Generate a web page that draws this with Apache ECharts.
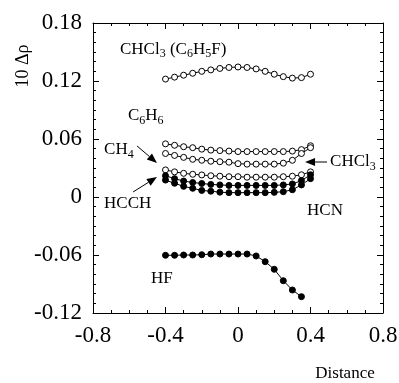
<!DOCTYPE html>
<html>
<head>
<meta charset="utf-8">
<script src="https://cdn.jsdelivr.net/npm/echarts@6/dist/echarts.min.js"></script>
<style>
  html, body { margin: 0; padding: 0; background: #fff; }
  #chart { width: 399px; height: 383px; }
</style>
</head>
<body>
<div id="chart"></div>
<script>
// x positions of the points (distance)
const distance = [-0.4, -0.35, -0.3, -0.25, -0.2, -0.15, -0.1, -0.05, 0, 0.05, 0.1, 0.15, 0.2, 0.25, 0.3, 0.35, 0.4];
const distanceHF = [-0.4, -0.35, -0.3, -0.25, -0.2, -0.15, -0.1, -0.05, 0, 0.05, 0.1, 0.15, 0.2, 0.25, 0.3, 0.35];

// 10 Δρ values
const chcl3C6h5f = [0.122, 0.124, 0.126, 0.128, 0.130, 0.1315, 0.133, 0.134, 0.1345, 0.134, 0.1325, 0.130, 0.127, 0.1245, 0.123, 0.1235, 0.127];
const c6h6 = [0.055, 0.0535, 0.052, 0.051, 0.0495, 0.0485, 0.048, 0.0475, 0.047, 0.047, 0.047, 0.047, 0.047, 0.047, 0.0475, 0.049, 0.053];
const ch4 = [0.045, 0.043, 0.041, 0.039, 0.038, 0.037, 0.0365, 0.036, 0.0345, 0.034, 0.034, 0.034, 0.034, 0.035, 0.038, 0.045, 0.051];
const chcl3 = [0.028, 0.026, 0.0245, 0.0235, 0.0228, 0.022, 0.0215, 0.021, 0.021, 0.0205, 0.0205, 0.0205, 0.0205, 0.021, 0.0215, 0.023, 0.026];
const hcch = [0.022, 0.019, 0.0165, 0.015, 0.014, 0.013, 0.0125, 0.012, 0.012, 0.012, 0.012, 0.012, 0.012, 0.0125, 0.0135, 0.017, 0.023];
const hcn = [0.0175, 0.0142, 0.011, 0.009, 0.0068, 0.006, 0.005, 0.0045, 0.0045, 0.0045, 0.0045, 0.0045, 0.0048, 0.0055, 0.0075, 0.0125, 0.019];
const hf = [-0.0603, -0.0603, -0.060, -0.060, -0.0597, -0.059, -0.059, -0.059, -0.059, -0.059, -0.061, -0.0669, -0.0748, -0.0866, -0.0962, -0.1031];

// tick labels
const xTicks = ["-0.8", "-0.4", "0", "0.4", "0.8"];
const yTicks = ["-0.12", "-0.06", "0", "0.06", "0.12", "0.18"];

const serif = "Liberation Serif";

function pairs(xs, ys) {
  return ys.map((v, i) => [xs[i], v]);
}

function curve(name, xs, ys, filled) {
  return {
    name: name,
    type: "line",
    data: pairs(xs, ys),
    symbol: "circle",
    symbolSize: 6,
    showSymbol: true,
    lineStyle: { color: "#000", width: 1 },
    itemStyle: {
      color: filled ? "#000" : "#fff",
      borderColor: "#000",
      borderWidth: 1,
    },
    emphasis: { disabled: true },
    animation: false,
  };
}

const chart = echarts.init(document.getElementById("chart"));

const axisCommon = {
  type: "value",
  axisLine: { show: true, onZero: false, lineStyle: { color: "#000", width: 1 } },
  axisTick: { show: true, inside: true, length: 6, lineStyle: { color: "#000" } },
  minorTick: { show: true, length: 3, lineStyle: { color: "#000" } },
  splitLine: { show: false },
  minorSplitLine: { show: false },
};

chart.setOption({
  animation: false,
  grid: {
    left: 93,
    right: 16,
    top: 23,
    bottom: 70,
    outerBoundsMode: "none",
  },
  xAxis: [
    Object.assign({}, axisCommon, {
      position: "bottom",
      min: -0.8,
      max: 0.8,
      interval: 0.4,
      minorTick: Object.assign({}, axisCommon.minorTick, { splitNumber: 4 }),
      axisLabel: {
        color: "#000",
        fontFamily: serif,
        fontSize: 23,
        margin: 11,
        formatter: (v) => xTicks.find((t) => Math.abs(parseFloat(t) - v) < 1e-6) || "",
      },
    }),
    Object.assign({}, axisCommon, {
      position: "top",
      min: -0.8,
      max: 0.8,
      interval: 0.4,
      minorTick: Object.assign({}, axisCommon.minorTick, { splitNumber: 4 }),
      axisLabel: { show: false },
    }),
  ],
  yAxis: [
    Object.assign({}, axisCommon, {
      position: "left",
      min: -0.12,
      max: 0.18,
      interval: 0.06,
      minorTick: Object.assign({}, axisCommon.minorTick, { splitNumber: 6 }),
      axisLabel: {
        color: "#000",
        fontFamily: serif,
        fontSize: 23,
        margin: 11,
        formatter: (v) => yTicks.find((t) => Math.abs(parseFloat(t) - v) < 1e-6) || "",
      },
    }),
    Object.assign({}, axisCommon, {
      position: "right",
      min: -0.12,
      max: 0.18,
      interval: 0.06,
      minorTick: Object.assign({}, axisCommon.minorTick, { splitNumber: 6 }),
      axisLabel: { show: false },
    }),
  ],
  series: [
    curve("CHCl3 (C6H5F)", distance, chcl3C6h5f, false),
    curve("C6H6", distance, c6h6, false),
    curve("CH4", distance, ch4, false),
    curve("CHCl3", distance, chcl3, false),
    curve("HCCH", distance, hcch, true),
    curve("HCN", distance, hcn, true),
    curve("HF", distanceHF, hf, true),
  ],
});

// annotations, placed in data coordinates
const rich = {
  n: { fontFamily: serif, fontSize: 17, fill: "#000" },
  s: { fontFamily: serif, fontSize: 12, fill: "#000", padding: [9, 0, 0, 0] },
};
const labels = [
  { at: [-0.651, 0.153], text: "{n|CHCl}{s|3}{n| (C}{s|6}{n|H}{s|5}{n|F)}" },
  { at: [-0.607, 0.0838], text: "{n|C}{s|6}{n|H}{s|6}" },
  { at: [-0.739, 0.0486], text: "{n|CH}{s|4}" },
  { at: [-0.739, -0.0072], text: "{n|HCCH}" },
  { at: [0.381, -0.0145], text: "{n|HCN}" },
  { at: [0.508, 0.0362], text: "{n|CHCl}{s|3}" },
  { at: [-0.48, -0.0848], text: "{n|HF}" },
];
const arrows = [
  { from: [-0.557, 0.0528], to: [-0.447, 0.0352] },
  { from: [-0.579, 0.0052], to: [-0.447, 0.0207] },
  { from: [0.491, 0.0362], to: [0.37, 0.0362] },
];

const px = (p) => chart.convertToPixel({ xAxisIndex: 0, yAxisIndex: 0 }, p);

const graphics = [];
labels.forEach((l) => {
  const p = px(l.at);
  graphics.push({
    type: "text",
    x: p[0],
    y: p[1],
    style: { text: l.text, rich: rich, align: "left", verticalAlign: "middle" },
  });
});
arrows.forEach((a) => {
  const p0 = px(a.from);
  const p1 = px(a.to);
  const dx = p1[0] - p0[0];
  const dy = p1[1] - p0[1];
  const len = Math.sqrt(dx * dx + dy * dy);
  const ux = dx / len, uy = dy / len;
  const head = 10, half = 4;
  const bx = p1[0] - ux * head, by = p1[1] - uy * head;
  graphics.push({
    type: "line",
    shape: { x1: p0[0], y1: p0[1], x2: bx, y2: by },
    style: { stroke: "#000", lineWidth: 1 },
  });
  graphics.push({
    type: "polygon",
    shape: {
      points: [
        [p1[0], p1[1]],
        [bx - uy * half, by + ux * half],
        [bx + uy * half, by - ux * half],
      ],
    },
    style: { fill: "#000" },
  });
});
graphics.push({
  type: "text",
  x: 23,
  y: 66,
  rotation: Math.PI / 2,
  style: { text: "10 Δρ", font: "18px " + serif, fill: "#000", align: "center", verticalAlign: "middle" },
});
graphics.push({
  type: "text",
  x: 345,
  y: 374,
  style: { text: "Distance", font: "17px " + serif, fill: "#000", align: "center", verticalAlign: "middle" },
});

chart.setOption({ graphic: graphics });
</script>
</body>
</html>
